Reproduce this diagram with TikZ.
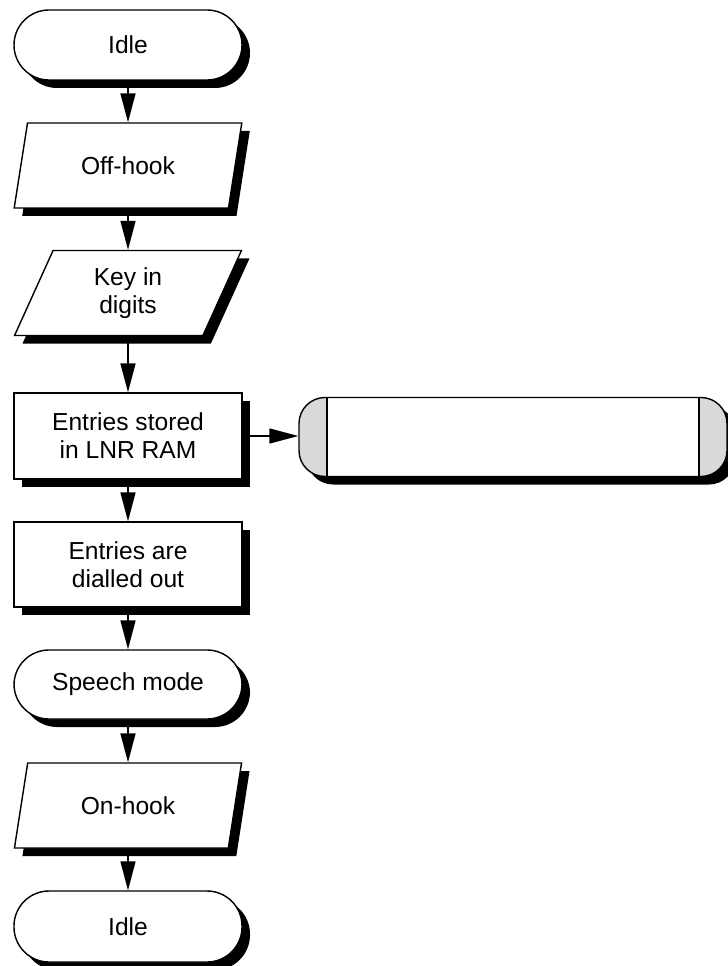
\documentclass[tikz,border=0pt]{standalone}
\usepackage{fontspec}
\setmainfont{Liberation Sans}
\usepackage{xcolor}
\usepackage{tikz}
\usetikzlibrary{shapes.geometric,shadows,arrows.meta}

\definecolor{capgray}{HTML}{D9D9D9}

\begin{document}
\begin{tikzpicture}[
		font=\fontsize{14}{16}\selectfont,
		every node/.style={draw=black, line width=0.8pt, fill=white, align=center, inner sep=0pt,
			drop shadow={shadow xshift=0.16cm, shadow yshift=-0.16cm, fill=black, opacity=1}},
		terminal/.style={rectangle, rounded corners=0.7cm, minimum width=4.56cm, minimum height=1.4cm},
		io/.style={trapezium, trapezium left angle=71, trapezium right angle=109, trapezium stretches=true,
			minimum width=4.56cm, minimum height=1.7cm},
		process/.style={rectangle, minimum width=4.56cm, minimum height=1.72cm},
		store/.style={rectangle, rounded corners=0.52cm, fill=capgray, minimum width=8.56cm, minimum height=1.56cm,
			path picture={\fill[white, sharp corners] ([xshift=0.56cm]path picture bounding box.north west) rectangle ([xshift=-0.56cm]path picture bounding box.south east);
				\draw[line width=0.8pt, sharp corners] ([xshift=0.56cm]path picture bounding box.north west) -- ([xshift=0.56cm]path picture bounding box.south west);
				\draw[line width=0.8pt, sharp corners] ([xshift=-0.56cm]path picture bounding box.north east) -- ([xshift=-0.56cm]path picture bounding box.south east);}},
		flow/.style={draw=black, line width=0.9pt, -{Triangle[length=0.58cm, width=0.3cm]}}
	]
		\useasboundingbox (0.00,0.00) rectangle (14.56,-19.32);
		\node[terminal] (idlea) at (2.56,-0.90) {Idle};
		\node[io] (offhook) at (2.56,-3.31) {Off-hook};
		\node[io] (keyin) at (2.56,-5.86) {Key in\\digits};
		\node[process] (stored) at (2.56,-8.72) {Entries stored\\in LNR RAM};
		\node[store, minimum height=1.58cm] (ram) at (10.26,-8.74) {};
		\node[process, minimum height=1.70cm] (dialled) at (2.56,-11.29) {Entries are\\dialled out};
		\node[terminal, minimum height=1.38cm] (speech) at (2.56,-13.69) {Speech mode};
		\node[io] (onhook) at (2.56,-16.11) {On-hook};
		\node[terminal, minimum height=1.42cm] (idleb) at (2.56,-18.53) {Idle};
		\draw[flow] (idlea) -- (offhook);
		\draw[flow] (offhook) -- (keyin);
		\draw[flow] (keyin) -- (stored);
		\draw[flow] (stored.east) -- (stored.east -| ram.west);
		\draw[flow] (stored) -- (dialled);
		\draw[flow] (dialled) -- (speech);
		\draw[flow] (speech) -- (onhook);
		\draw[flow] (onhook) -- (idleb);
	\end{tikzpicture}
\end{document}
